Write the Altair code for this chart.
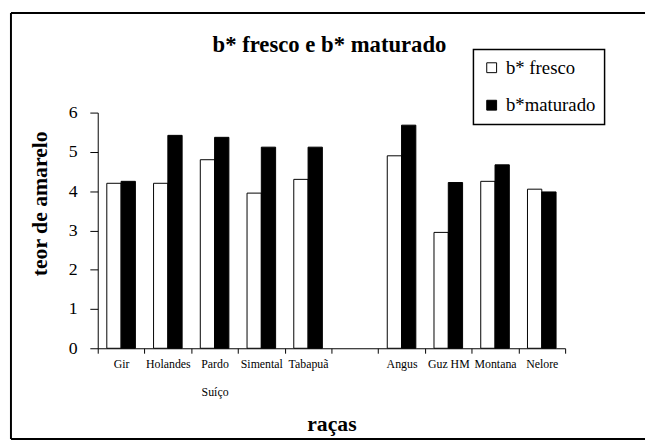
import altair as alt
import pandas as pd

racas = ["Gir", "Holandes", "Pardo Suíço", "Simental", "Tabapuã", "Angus", "Guz HM", "Montana", "Nelore"]
eixo = ["Gir", "Holandes", "Pardo Suíço", "Simental", "Tabapuã", "", "Angus", "Guz HM", "Montana", "Nelore"]
fresco = [4.2, 4.2, 4.8, 3.95, 4.3, 4.9, 2.95, 4.25, 4.05]
maturado = [4.25, 5.42, 5.37, 5.12, 5.12, 5.68, 4.22, 4.67, 3.98]
series = ["b* fresco", "b*maturado"]
yticks = [0, 1, 2, 3, 4, 5, 6]

rows = []
for r, f, m in zip(racas, fresco, maturado):
    rows.append({"raca": r, "serie": series[0], "valor": f})
    rows.append({"raca": r, "serie": series[1], "valor": m})
df = pd.DataFrame(rows)

serif = "Liberation Serif"

bars = alt.Chart(df).mark_bar(stroke="black", strokeWidth=1).encode(
    x=alt.X(
        "raca:N",
        sort=eixo,
        scale=alt.Scale(domain=eixo, paddingInner=0, paddingOuter=0),
        axis=alt.Axis(
            title="raças",
            titleFont=serif, titleFontSize=22, titleFontWeight="bold", titleColor="black",
            titleY=76, titleBaseline="middle",
            tickBand="extent", tickSize=5, tickColor="black", domainColor="black",
            labelAngle=0, labelFont=serif, labelFontSize=12, labelColor="black",
            labelPadding=6, labelLineHeight=28, labelBaseline="top",
            labelExpr="datum.label == 'Pardo Suíço' ? ['Pardo', 'Suíço'] : datum.label",
            labelOverlap=False, grid=False,
        ),
    ),
    xOffset=alt.XOffset("serie:N", scale=alt.Scale(domain=series, paddingOuter=0.635, paddingInner=0)),
    y=alt.Y(
        "valor:Q",
        scale=alt.Scale(domain=[0, 6], nice=False),
        axis=alt.Axis(
            values=yticks, title="teor de amarelo",
            titleFont=serif, titleFontSize=22, titleFontWeight="bold", titleColor="black",
            titleAngle=270, titleX=-59, titleY=92, titleAlign="center", titleBaseline="middle",
            tickSize=8, tickColor="black", domainColor="black",
            labelFont=serif, labelFontSize=18, labelColor="black", labelPadding=13,
            grid=False,
        ),
    ),
    color=alt.Color(
        "serie:N", title=None,
        scale=alt.Scale(domain=series, range=["white", "black"]),
        legend=alt.Legend(
            orient="none", legendX=381, legendY=-64,
            strokeColor="black", padding=9,
            symbolType="square", symbolSize=100, symbolStrokeColor="black", symbolStrokeWidth=1,
            labelFont=serif, labelFontSize=19, labelColor="black", labelOffset=5, rowPadding=18,
        ),
    ),
)

one = pd.DataFrame({"k": [0]})
top = alt.Chart(one).mark_rule(color="black", strokeWidth=2).encode(
    x=alt.value(-88), x2=alt.value(555), y=alt.value(-101))
left = alt.Chart(one).mark_rule(color="black", strokeWidth=2).encode(
    x=alt.value(-88), y=alt.value(-101), y2=alt.value(331))
bottom = alt.Chart(one).mark_rule(color="black", strokeWidth=2).encode(
    x=alt.value(-88), x2=alt.value(555), y=alt.value(331))

chart = alt.layer(bars, top, left, bottom).properties(
    width=474, height=239,
    padding={"left": 2, "top": 1, "right": 0, "bottom": 0},
    title=alt.Title("b* fresco e b* maturado", font=serif, fontSize=23, fontWeight="bold",
                    color="black", anchor="middle", dx=-2, offset=-46),
).configure_view(strokeWidth=0).configure_legend(strokeWidth=1.5)

chart.save("out.html", embed_options={"renderer": "svg", "actions": False})
